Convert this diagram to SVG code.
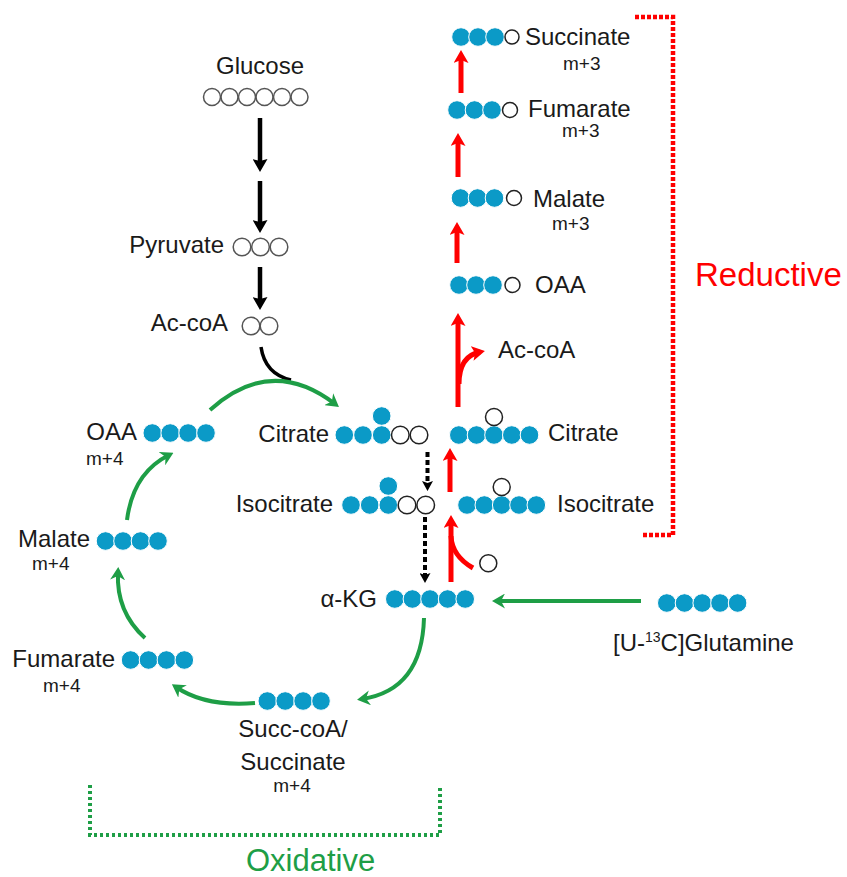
<svg xmlns="http://www.w3.org/2000/svg" width="847" height="877" viewBox="0 0 847 877">
<style>
.t{font-family:"Liberation Sans",Arial,sans-serif;font-size:24px;fill:#1a1a1a}
.s{font-family:"Liberation Sans",Arial,sans-serif;font-size:19px;fill:#1a1a1a}
.f{fill:#0b9ac7;stroke:#fff;stroke-width:1}
.o{fill:none;stroke:#222;stroke-width:1.5}
.g{fill:none;stroke:#555;stroke-width:1.5}
.bk{fill:none;stroke:#000;stroke-width:4.5}
.bd{fill:none;stroke:#000;stroke-width:4;stroke-dasharray:5 3}
.rd{fill:none;stroke:#f00;stroke-width:5}
.gr{fill:none;stroke:#1e9e46;stroke-width:4}
</style>
<defs>
<marker id="hb" viewBox="0 0 13 15" refX="8" refY="7.5" markerWidth="13" markerHeight="15" markerUnits="userSpaceOnUse" orient="auto"><path d="M0,0 L13,7.5 L0,15 L2,7.5z" fill="#000"/></marker>
<marker id="hbs" viewBox="0 0 10 11" refX="5" refY="5.5" markerWidth="10" markerHeight="11" markerUnits="userSpaceOnUse" orient="auto"><path d="M0,0 L10,5.5 L0,11 L2,5.5z" fill="#000"/></marker>
<marker id="hr" viewBox="0 0 13 15" refX="8" refY="7.5" markerWidth="13" markerHeight="15" markerUnits="userSpaceOnUse" orient="auto"><path d="M0,0 L13,7.5 L0,15 L3,7.5z" fill="#f00"/></marker>
<marker id="hg" viewBox="0 0 13 15" refX="8" refY="7.5" markerWidth="13" markerHeight="15" markerUnits="userSpaceOnUse" orient="auto"><path d="M0,0 L13,7.5 L0,15 L4,7.5z" fill="#1e9e46"/></marker>
</defs>

<g id="connectors">
<line class="bk" x1="260" y1="118" x2="260" y2="167" marker-end="url(#hb)"/>
<line class="bk" x1="260" y1="181" x2="260" y2="228" marker-end="url(#hb)"/>
<line class="bk" x1="260" y1="267" x2="260" y2="305" marker-end="url(#hb)"/>
<path d="M261,347 Q 265,374 291,380" fill="none" stroke="#000" stroke-width="3.5"/>
<line class="bd" x1="427.5" y1="452" x2="427.5" y2="486" marker-end="url(#hbs)"/>
<line class="bd" x1="425" y1="517" x2="425" y2="578" marker-end="url(#hbs)"/>
<line class="rd" x1="461" y1="93" x2="461" y2="55" marker-end="url(#hr)"/>
<line class="rd" x1="458" y1="177" x2="458" y2="138" marker-end="url(#hr)"/>
<line class="rd" x1="457" y1="263" x2="457" y2="227" marker-end="url(#hr)"/>
<line class="rd" x1="458" y1="407" x2="458" y2="318" marker-end="url(#hr)"/>
<path class="rd" d="M459,384 Q 459,356 480,352" stroke-width="4" marker-end="url(#hr)"/>
<line class="rd" x1="450" y1="492" x2="450" y2="453" marker-end="url(#hr)"/>
<line class="rd" x1="451" y1="582" x2="451" y2="520" marker-end="url(#hr)"/>
<path class="rd" d="M473,568 Q 452,556 451,536" stroke-width="4"/>
<path class="gr" d="M210,410 Q 271,355 335,404" marker-end="url(#hg)"/>
<path class="gr" d="M127,520 Q 133,473 169,455" marker-end="url(#hg)"/>
<path class="gr" d="M145,638 Q 116,612 118,572" marker-end="url(#hg)"/>
<path class="gr" d="M255,703 Q 205,707 176,687" marker-end="url(#hg)"/>
<path class="gr" d="M424,618 Q 422,690 362,699" marker-end="url(#hg)"/>
<line class="gr" x1="641" y1="601" x2="497" y2="601" marker-end="url(#hg)"/>
</g>

<g id="reductive">
<path d="M635,17 L673,17 L673,535 L641,535" fill="none" stroke="#f00" stroke-width="4.5" stroke-dasharray="4 2"/>
<text x="695" y="286" font-family="Liberation Sans, Arial, sans-serif" font-size="33" fill="#f00">Reductive</text>
</g>
<g id="oxidative">
<path d="M90,785 L90,835 L440,835 L440,785" fill="none" stroke="#1e9e46" stroke-width="4" stroke-dasharray="3 3"/>
<text x="246" y="871" font-family="Liberation Sans, Arial, sans-serif" font-size="31" fill="#1e9e46">Oxidative</text>
</g>

<g id="glucose">
<text class="t" x="260" y="74" text-anchor="middle">Glucose</text>
<circle class="g" cx="212" cy="97" r="8.5"/><circle class="g" cx="229.5" cy="97" r="8.5"/><circle class="g" cx="247" cy="97" r="8.5"/><circle class="g" cx="264.5" cy="97" r="8.5"/><circle class="g" cx="282" cy="97" r="8.5"/><circle class="g" cx="299.5" cy="97" r="8.5"/>
</g>
<g id="pyruvate">
<text class="t" x="224" y="253" text-anchor="end">Pyruvate</text>
<circle class="g" cx="242" cy="247" r="8.8"/><circle class="g" cx="260.5" cy="247" r="8.8"/><circle class="g" cx="279" cy="247" r="8.8"/>
</g>
<g id="accoa-left">
<text class="t" x="228" y="331" text-anchor="end">Ac-coA</text>
<circle class="g" cx="251" cy="326" r="8.8"/><circle class="g" cx="269" cy="326" r="8.8"/>
</g>

<g id="oaa-left">
<text class="t" x="137" y="440" text-anchor="end">OAA</text>
<text class="s" x="86" y="465">m+4</text>
<circle class="f" cx="152.3" cy="433" r="9.3"/><circle class="f" cx="170.2" cy="433" r="9.3"/><circle class="f" cx="188.1" cy="433" r="9.3"/><circle class="f" cx="206" cy="433" r="9.3"/>
</g>
<g id="malate-left">
<text class="t" x="90" y="547" text-anchor="end">Malate</text>
<text class="s" x="32" y="570">m+4</text>
<circle class="f" cx="105.5" cy="541" r="9.3"/><circle class="f" cx="123" cy="541" r="9.3"/><circle class="f" cx="140.5" cy="541" r="9.3"/><circle class="f" cx="158" cy="541" r="9.3"/>
</g>
<g id="fumarate-left">
<text class="t" x="115" y="667" text-anchor="end">Fumarate</text>
<text class="s" x="43" y="692">m+4</text>
<circle class="f" cx="130.6" cy="660" r="9.3"/><circle class="f" cx="148.5" cy="660" r="9.3"/><circle class="f" cx="166.4" cy="660" r="9.3"/><circle class="f" cx="184.3" cy="660" r="9.3"/>
</g>
<g id="succ-coa">
<circle class="f" cx="267.3" cy="701" r="9.3"/><circle class="f" cx="285.2" cy="701" r="9.3"/><circle class="f" cx="303.1" cy="701" r="9.3"/><circle class="f" cx="321" cy="701" r="9.3"/>
<text class="t" x="293" y="737" text-anchor="middle">Succ-coA/</text>
<text class="t" x="293" y="770" text-anchor="middle">Succinate</text>
<text class="s" x="292" y="792" text-anchor="middle">m+4</text>
</g>

<g id="citrate-left">
<text class="t" x="329" y="442" text-anchor="end">Citrate</text>
<circle class="f" cx="344.3" cy="435" r="9.3"/><circle class="f" cx="363" cy="435" r="9.3"/><circle class="f" cx="381.7" cy="416" r="9.3"/><circle class="f" cx="381.7" cy="435" r="9.3"/>
<circle class="o" cx="400.3" cy="435" r="8.8"/><circle class="o" cx="419" cy="435" r="8.8"/>
</g>
<g id="isocitrate-left">
<text class="t" x="333" y="512" text-anchor="end">Isocitrate</text>
<circle class="f" cx="351" cy="505" r="9.3"/><circle class="f" cx="369.7" cy="505" r="9.3"/><circle class="f" cx="388.3" cy="486" r="9.3"/><circle class="f" cx="388.3" cy="505" r="9.3"/>
<circle class="o" cx="407" cy="505" r="8.8"/><circle class="o" cx="425.7" cy="505" r="8.8"/>
</g>
<g id="akg">
<text class="t" x="377" y="607" text-anchor="end">α-KG</text>
<circle class="f" cx="394.8" cy="599" r="9.3"/><circle class="f" cx="412.4" cy="599" r="9.3"/><circle class="f" cx="430" cy="599" r="9.3"/><circle class="f" cx="447.6" cy="599" r="9.3"/><circle class="f" cx="465.2" cy="599" r="9.3"/>
</g>
<g id="co2">
<circle class="o" cx="488.3" cy="563.3" r="8.5"/>
</g>

<g id="citrate-right">
<circle class="f" cx="458.8" cy="435" r="9.3"/><circle class="f" cx="476.5" cy="435" r="9.3"/><circle class="f" cx="494" cy="435" r="9.3"/><circle class="f" cx="511.8" cy="435" r="9.3"/><circle class="f" cx="529.5" cy="435" r="9.3"/>
<circle class="o" cx="494" cy="417" r="8.5"/>
<text class="t" x="548" y="441">Citrate</text>
</g>
<g id="isocitrate-right">
<circle class="f" cx="467" cy="505" r="9.3"/><circle class="f" cx="484.3" cy="505" r="9.3"/><circle class="f" cx="501.7" cy="505" r="9.3"/><circle class="f" cx="519" cy="505" r="9.3"/><circle class="f" cx="536.3" cy="505" r="9.3"/>
<circle class="o" cx="501.7" cy="487" r="8.5"/>
<text class="t" x="557" y="512">Isocitrate</text>
</g>
<g id="accoa-right">
<text class="t" x="498" y="358">Ac-coA</text>
</g>
<g id="oaa-right">
<circle class="f" cx="459" cy="285" r="9.3"/><circle class="f" cx="476" cy="285" r="9.3"/><circle class="f" cx="493" cy="285" r="9.3"/>
<circle class="o" cx="512.5" cy="285" r="7.5"/>
<text class="t" x="535" y="293">OAA</text>
</g>
<g id="malate-right">
<circle class="f" cx="460.5" cy="198" r="9.3"/><circle class="f" cx="477.5" cy="198" r="9.3"/><circle class="f" cx="494.5" cy="198" r="9.3"/>
<circle class="o" cx="514" cy="198" r="7.5"/>
<text class="t" x="533" y="207">Malate</text>
<text class="s" x="552" y="230">m+3</text>
</g>
<g id="fumarate-right">
<circle class="f" cx="457" cy="110" r="9.3"/><circle class="f" cx="474.5" cy="110" r="9.3"/><circle class="f" cx="492" cy="110" r="9.3"/>
<circle class="o" cx="510" cy="110" r="7.5"/>
<text class="t" x="528" y="117">Fumarate</text>
<text class="s" x="562" y="137">m+3</text>
</g>
<g id="succinate-right">
<circle class="f" cx="461" cy="37" r="9.3"/><circle class="f" cx="478" cy="37" r="9.3"/><circle class="f" cx="495" cy="37" r="9.3"/>
<circle class="o" cx="512" cy="37" r="7"/>
<text class="t" x="525" y="45">Succinate</text>
<text class="s" x="563" y="70">m+3</text>
</g>
<g id="glutamine">
<circle class="f" cx="666.8" cy="603" r="9.3"/><circle class="f" cx="684.5" cy="603" r="9.3"/><circle class="f" cx="702.2" cy="603" r="9.3"/><circle class="f" cx="720" cy="603" r="9.3"/><circle class="f" cx="737.6" cy="603" r="9.3"/>
<text class="t" x="613" y="651" font-size="23">[U-<tspan font-size="14" dy="-9">13</tspan><tspan dy="9">C]Glutamine</tspan></text>
</g>
</svg>
